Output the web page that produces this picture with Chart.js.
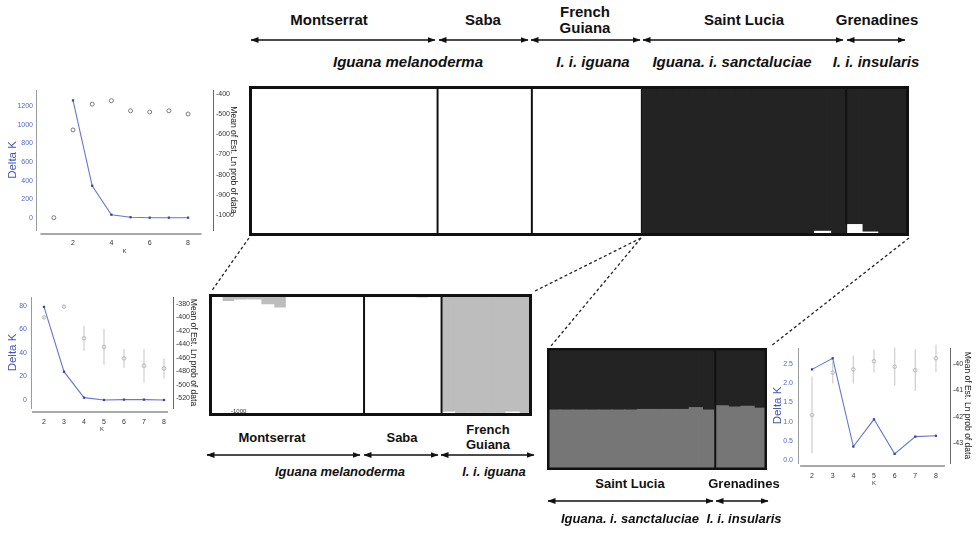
<!DOCTYPE html>
<html><head><meta charset="utf-8">
<script src="https://cdn.jsdelivr.net/npm/chart.js@4.4.1/dist/chart.umd.min.js"></script>
<style>
html,body{margin:0;padding:0;background:#fff;}
#wrap{position:relative;width:977px;height:535px;overflow:hidden;font-family:"Liberation Sans",Arial,sans-serif;background:#fff;}
canvas{position:absolute;}
.lab{position:absolute;transform:translate(-50%,-50%);white-space:nowrap;color:#111;font-weight:bold;text-align:center;}
.pop{font-size:15px;line-height:16px;}
.pop2{font-size:13px;line-height:15px;}
.sp{font-style:italic;font-size:15px;}
.sp2{font-style:italic;font-size:13px;}
.tiny{position:absolute;font-size:6px;color:#333;}
svg{position:absolute;left:0;top:0;}
</style></head><body><div id="wrap">
<canvas id="cA" width="240" height="176" style="left:0px;top:80px"></canvas>
<canvas id="cB" width="200" height="146" style="left:0px;top:287px"></canvas>
<canvas id="cC" width="207" height="150" style="left:770px;top:338px"></canvas>
<canvas id="sTop" width="660" height="150" style="left:249px;top:86px"></canvas>
<canvas id="sMid" width="323" height="122" style="left:209px;top:294px"></canvas>
<canvas id="sLow" width="220" height="122" style="left:547px;top:348px"></canvas>

<div class="lab pop" style="left:329px;top:20px">Montserrat</div>
<div class="lab pop" style="left:483px;top:20px">Saba</div>
<div class="lab pop" style="left:585px;top:20px">French<br>Guiana</div>
<div class="lab pop" style="left:744px;top:20px">Saint Lucia</div>
<div class="lab pop" style="left:877px;top:20px">Grenadines</div>
<div class="lab sp" style="left:408px;top:61px">Iguana melanoderma</div>
<div class="lab sp" style="left:593px;top:61px">I. i. iguana</div>
<div class="lab sp" style="left:732px;top:61px">Iguana. i. sanctaluciae</div>
<div class="lab sp" style="left:876px;top:61px">I. i. insularis</div>

<div class="lab pop2" style="left:272px;top:437px">Montserrat</div>
<div class="lab pop2" style="left:402px;top:437px">Saba</div>
<div class="lab pop2" style="left:488px;top:437px">French<br>Guiana</div>
<div class="lab sp2" style="left:340px;top:471px">Iguana melanoderma</div>
<div class="lab sp2" style="left:494px;top:471px">I. i. iguana</div>

<div class="lab pop2" style="left:630px;top:483px">Saint Lucia</div>
<div class="lab pop2" style="left:744px;top:483px">Grenadines</div>
<div class="lab sp2" style="left:630px;top:518px">Iguana. i. sanctaluciae</div>
<div class="lab sp2" style="left:744px;top:518px">I. i. insularis</div>
<div class="tiny" style="left:231px;top:408px">-1000</div>

<svg width="977" height="535">
<defs>
<marker id="ah" viewBox="0 0 8 6" refX="7.5" refY="3" markerWidth="8" markerHeight="6" markerUnits="userSpaceOnUse" orient="auto-start-reverse">
<path d="M0,0 L8,3 L0,6 z" fill="#111"/></marker>
</defs>
<g id="arrows" stroke="#111" stroke-width="1.6"></g>
<g stroke="#222" stroke-width="1.3" stroke-dasharray="3 2.5" fill="none">
<line x1="249" y1="238" x2="211" y2="292"/>
<line x1="641" y1="238" x2="533" y2="292"/>
<line x1="641" y1="238" x2="551" y2="346"/>
<line x1="909" y1="238" x2="771" y2="346"/>
</g>
</svg>
</div>
<script>
// ================= DATA =================
// Top STRUCTURE plot (all populations), share of cluster 1 (white, bottom of stack)
const topMontserrat = [1,1,1,1,1,0.988,1,0.988,1,1,1,0.975];
const topSaba       = [1,0.988,1,1,1,1];
const topGuiana     = [1,0.99,1,1,1,0.985,1];
const topLucia      = [0,0,0,0,0,0,0,0,0,0,0,0.03,0];
const topGrenadines = [0.075,0.025,0.015,0];

// Middle STRUCTURE plot, share of grey cluster (top of stack)
const midMontserrat = [0.02,0.063,0.05,0.05,0.09,0.117,0.03,0.02,0.02,0.03,0.03,0.02];
const midSaba       = [0.02,0.03,0.02,0.02,0.035,0.02];
const midGuiana     = [0.97,0.98,0.98,0.98,0.98,0.97,0.98];

// Lower STRUCTURE plot, share of grey cluster (bottom of stack)
const lowLucia      = [0.49,0.49,0.49,0.49,0.49,0.49,0.49,0.495,0.495,0.495,0.495,0.51,0.49];
const lowGrenadines = [0.525,0.515,0.52,0.505];

// Evanno plot A (all populations)
const kA      = [1,2,3,4,5,6,7,8];
const deltaKA = [null,1260,345,35,8,3,3,3];
const lnPA    = [-1013,-578,-450,-433,-483,-489,-483,-499];
const xTicksA = [2,4,6,8];
const yTicksA = [0,200,400,600,800,1000,1200];
const y1TicksA= [-400,-500,-600,-700,-800,-900,-1000];

// Evanno plot B (Montserrat, Saba, French Guiana)
const kB      = [2,3,4,5,6,7,8];
const deltaKB = [79,24,2,0,0.3,0.3,0];
const lnPB    = [-400,-384,-431,-444,-461,-472,-476];
const sdB     = [2,2,18.5,27,14,25,15];
const xTicksB = [2,3,4,5,6,7,8];
const yTicksB = [0,20,40,60,80];
const y1TicksB= [-380,-400,-420,-440,-460,-480,-500,-520];

// Evanno plot C (Saint Lucia, Grenadines)
const kC      = [2,3,4,5,6,7,8];
const deltaKC = [2.36,2.65,0.35,1.06,0.16,0.61,0.63];
const lnPC    = [-41.93,-40.32,-40.2,-39.89,-40.1,-40.23,-39.78];
const sdC     = [1.45,0.41,0.53,0.43,0.72,0.79,0.52];
const xTicksC = [2,3,4,5,6,7,8];
const yTicksC = [0,0.5,1,1.5,2,2.5];
const y1TicksC= [-40,-41,-42,-43];

// ================= DRAWING =================
Chart.defaults.font.family = '"Liberation Sans", Arial, sans-serif';

// arrows
(function(){
  const g = document.getElementById('arrows');
  const spans = [[40,[[251,435],[439,528],[531,640],[643,843],[847,905]]],
                 [455,[[207,360],[364,438],[441,534]]],
                 [501,[[548,713],[716,768]]]];
  spans.forEach(([y,list])=>list.forEach(([a,b])=>{
    const l=document.createElementNS('http://www.w3.org/2000/svg','line');
    l.setAttribute('x1',a);l.setAttribute('x2',b);l.setAttribute('y1',y);l.setAttribute('y2',y);
    l.setAttribute('marker-start','url(#ah)');l.setAttribute('marker-end','url(#ah)');
    g.appendChild(l);
  }));
})();

function structureChart(id, groups, givenIsBottom, bottomColor, topColor, frameW){
  const labels=[], bottom=[], top=[], bounds=[]; let n=0;
  groups.forEach((g,gi)=>{
    g.forEach((v,i)=>{ labels.push(gi+'.'+i); const b = givenIsBottom ? v : 1-v; bottom.push(b); top.push(1-b); });
    n+=g.length; bounds.push(n);
  });
  bounds.pop();
  const frame = {id:'frame', afterDraw(chart){
    const {ctx, chartArea:a} = chart; const xs = chart.scales.x;
    ctx.save(); ctx.strokeStyle='#111';
    ctx.lineWidth=2;
    bounds.forEach(b=>{ const x=(xs.getPixelForValue(b-1)+xs.getPixelForValue(b))/2;
      ctx.beginPath(); ctx.moveTo(x,a.top); ctx.lineTo(x,a.bottom); ctx.stroke(); });
    ctx.lineWidth=frameW;
    ctx.strokeRect(a.left+frameW/2, a.top+frameW/2, a.right-a.left-frameW, a.bottom-a.top-frameW);
    ctx.restore();
  }};
  return new Chart(document.getElementById(id), {
    type:'bar',
    data:{labels, datasets:[
      {data:bottom, backgroundColor:bottomColor, borderWidth:0, inflateAmount:0.7},
      {data:top, backgroundColor:topColor, borderWidth:0, inflateAmount:0.7}]},
    options:{responsive:false, animation:false, events:[],
      layout:{padding:0},
      plugins:{legend:{display:false}, tooltip:{enabled:false}},
      datasets:{bar:{barPercentage:1, categoryPercentage:1}},
      scales:{x:{display:false, stacked:true}, y:{display:false, stacked:true, min:0, max:1}}},
    plugins:[frame]
  });
}

structureChart('sTop', [topMontserrat, topSaba, topGuiana, topLucia, topGrenadines], true, '#ffffff', '#232323', 3);
structureChart('sMid', [midMontserrat, midSaba, midGuiana], false, '#ffffff', '#bdbdbd', 3);
structureChart('sLow', [lowLucia, lowGrenadines], true, '#767676', '#232323', 2.5);

const errPlugin = {id:'errbars', beforeDatasetsDraw(chart){
  const ctx=chart.ctx;
  chart.data.datasets.forEach(ds=>{
    if(!ds.errors) return;
    const xs=chart.scales.x, ys=chart.scales[ds.yAxisID];
    ctx.save(); ctx.strokeStyle=ds.errColor; ctx.lineWidth=1.3;
    ds.data.forEach((p,i)=>{ const e=ds.errors[i]; if(!e) return;
      const x=xs.getPixelForValue(p.x);
      ctx.beginPath(); ctx.moveTo(x, ys.getPixelForValue(p.y-e)); ctx.lineTo(x, ys.getPixelForValue(p.y+e)); ctx.stroke(); });
    ctx.restore();
  });
}};

function kChart(o){
  const lineData = o.k.map((k,i)=>({x:k,y:o.dk[i]})).filter(p=>p.y!==null);
  const ptData = o.kp.map((k,i)=>({x:k,y:o.lnp[i]}));
  const xline = {id:'xline', afterDraw(chart){
    const {ctx, chartArea:a} = chart; const xs=chart.scales.x;
    ctx.save(); ctx.strokeStyle='#555'; ctx.lineWidth=1.2;
    ctx.beginPath(); ctx.moveTo(xs.getPixelForValue(o.xFrom), a.bottom+o.gap); ctx.lineTo(xs.getPixelForValue(o.xTo), a.bottom+o.gap); ctx.stroke();
    ctx.restore();
  }};
  return new Chart(document.getElementById(o.id), {
    type:'line',
    data:{datasets:[
      {data:ptData, yAxisID:'y1', showLine:false, pointRadius:o.pr, pointStyle:'circle',
       pointBorderColor:o.pc, pointBackgroundColor:'rgba(255,255,255,0)', pointBorderWidth:1,
       errors:o.err, errColor:'#d2d2d2', order:2},
      {data:lineData, yAxisID:'y', borderColor:'#6777cf', borderWidth:1.1, tension:0,
       pointRadius:1.6, pointStyle:'rect', pointBackgroundColor:'#3445a8', pointBorderColor:'#3445a8', pointBorderWidth:0, order:1}
    ]},
    options:{responsive:false, animation:false, events:[],
      layout:{padding:{top:o.padTop,left:0,right:0,bottom:0}},
      plugins:{legend:{display:false}, tooltip:{enabled:false}},
      scales:{
        x:{type:'linear', position:'bottom', min:o.xMin, max:o.xMax, grid:{display:false, drawTicks:false}, border:{display:false},
           afterBuildTicks:s=>{s.ticks=o.xTicks.map(v=>({value:v}));},
           afterFit:s=>{s.height=o.bottomH;},
           ticks:{color:'#333', font:{size:7}, padding:o.xPad, maxRotation:0, autoSkip:false, callback:v=>String(v)},
           title:{display:true, text:'K', color:'#333', font:{size:6}, padding:{top:0,bottom:o.kPad}}},
        y:{type:'linear', position:'left', min:o.yMin, max:o.yMax, grid:{display:false, drawTicks:false},
           border:{display:true, color:'#9a9a9a', width:1},
           afterBuildTicks:s=>{s.ticks=o.yTicks.map(v=>({value:v}));},
           afterFit:s=>{s.width=o.leftW;},
           ticks:{color:'#5566c4', font:{size:7}, padding:o.lPad, autoSkip:false, callback:o.yFmt},
           title:{display:true, text:'Delta K', color:'#4555b8', font:{size:11.5}, padding:{top:o.ltPad,bottom:0}}},
        y1:{type:'linear', position:'right', min:o.y1Min, max:o.y1Max, grid:{display:false, drawTicks:false},
           border:{display:true, color:'#666', width:1},
           afterBuildTicks:s=>{s.ticks=o.y1Ticks.map(v=>({value:v}));},
           afterFit:s=>{s.width=o.rightW;},
           ticks:{color:'#333', font:{size:7}, padding:3, autoSkip:false, callback:v=>String(v)},
           title:{display:true, text:'Mean of Est. Ln prob of data', color:'#222', font:{size:8.5}, padding:{top:o.rtPad,bottom:0}}}
      }},
    plugins:[errPlugin, xline]
  });
}

kChart({id:'cA', k:kA, dk:deltaKA, kp:kA, lnp:lnPA, err:null, pr:2, pc:'#7a7a7a',
  padTop:10, leftW:36, rightW:27, bottomH:26,
  xMin:0.07, xMax:9.3, xTicks:xTicksA, xFrom:0.3, xTo:8.7, gap:4, xPad:8.8, kPad:1,
  yMin:-129, yMax:1371, yTicks:yTicksA, yFmt:v=>String(v), lPad:3, ltPad:6.4,
  y1Min:-1074, y1Max:-380, y1Ticks:y1TicksA, rtPad:1.9});

kChart({id:'cB', k:kB, dk:deltaKB, kp:kB, lnp:lnPB, err:sdB, pr:1.8, pc:'#b8b8c8',
  padTop:10, leftW:31, rightW:27, bottomH:25,
  xMin:1.35, xMax:8.45, xTicks:xTicksB, xFrom:1.4, xTo:8.2, gap:4, xPad:9.5, kPad:0,
  yMin:-6.8, yMax:87.4, yTicks:yTicksB, yFmt:v=>String(v), lPad:4, ltPad:5.9,
  y1Min:-534.9, y1Max:-369.6, y1Ticks:y1TicksB, rtPad:1.9});

kChart({id:'cC', k:kC, dk:deltaKC, kp:kC, lnp:lnPC, err:sdC, pr:1.8, pc:'#b8b8c8',
  padTop:10, leftW:28, rightW:27, bottomH:25,
  xMin:1.32, xMax:8.68, xTicks:xTicksC, xFrom:1.42, xTo:8.44, gap:3, xPad:8.8, kPad:1.4,
  yMin:-0.078, yMax:2.917, yTicks:yTicksC, yFmt:v=>v.toFixed(1), lPad:5, ltPad:1.4,
  y1Min:-43.745, y1Max:-39.39, y1Ticks:y1TicksC, rtPad:4.9});
</script>
</body></html>
